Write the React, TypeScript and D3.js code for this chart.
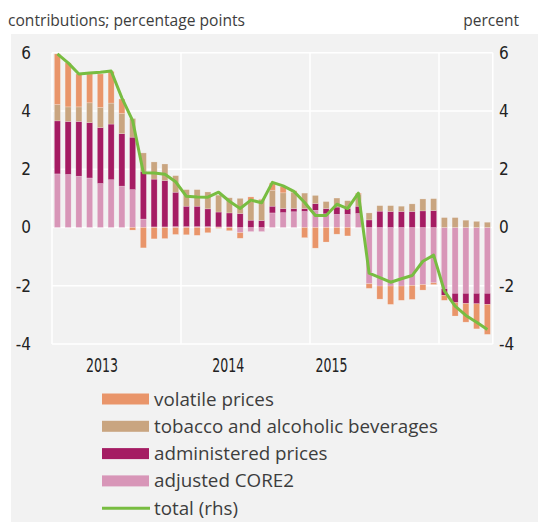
import React from "react";
import * as d3 from "d3";

const months: string[] = [
  "2013-01","2013-02","2013-03","2013-04","2013-05","2013-06","2013-07","2013-08","2013-09","2013-10","2013-11","2013-12",
  "2014-01","2014-02","2014-03","2014-04","2014-05","2014-06","2014-07","2014-08","2014-09","2014-10","2014-11","2014-12",
  "2015-01","2015-02","2015-03","2015-04","2015-05","2015-06","2015-07","2015-08","2015-09","2015-10","2015-11","2015-12",
  "2016-01","2016-02","2016-03","2016-04","2016-05",
];

const core: number[] = [
  1.84, 1.82, 1.76, 1.70, 1.51, 1.64, 1.42, 1.30, 0.29, 0.02, 0.02, 0.03,
  0.03, 0.03, 0.03, 0.02, 0.02, -0.18, -0.14, -0.14, 0.50, 0.51, 0.54, 0.55,
  0.59, 0.47, 0.45, 0.45, 0.48, -1.93, -2.01, -2.01, -2.01, -1.99, -1.96, -1.90,
  -2.10, -2.26, -2.26, -2.26, -2.26,
];

const administered: number[] = [
  1.82, 1.82, 1.88, 1.90, 1.92, 1.91, 1.80, 1.80, 1.64, 1.64, 1.59, 1.18,
  0.70, 0.70, 0.61, 0.51, 0.48, 0.48, 0.25, 0.24, 0.23, 0.14, 0.11, 0.10,
  0.23, 0.18, 0.25, 0.20, 0.25, 0.26, 0.56, 0.55, 0.55, 0.55, 0.57, 0.58,
  -0.23, -0.32, -0.35, -0.36, -0.38,
];

const tobacco: number[] = [
  0.56, 0.50, 0.50, 0.68, 0.69, 0.72, 0.69, 0.64, 0.63, 0.59, 0.57, 0.57,
  0.57, 0.57, 0.58, 0.58, 0.52, 0.52, 0.65, 0.72, 0.55, 0.54, 0.56, 0.53,
  0.28, 0.24, 0.31, 0.27, 0.42, 0.24, 0.19, 0.20, 0.18, 0.26, 0.41, 0.41,
  0.34, 0.34, 0.25, 0.21, 0.18,
];

const volatile: number[] = [
  1.74, 1.51, 1.13, 0.99, 1.15, 1.09, 0.50, -0.09, -0.70, -0.39, -0.38, -0.24,
  -0.25, -0.27, -0.18, -0.03, -0.11, -0.19, 0.15, 0.02, 0.25, 0.21, 0.05, -0.35,
  -0.71, -0.50, -0.23, -0.29, 0.03, -0.16, -0.45, -0.63, -0.49, -0.48, -0.19, -0.06,
  -0.17, -0.46, -0.64, -0.86, -1.03,
];

const total: number[] = [
  5.96, 5.65, 5.27, 5.30, 5.33, 5.37, 4.45, 3.67, 1.88, 1.87, 1.83, 1.57,
  1.07, 1.05, 1.04, 1.21, 0.90, 0.65, 0.94, 0.85, 1.55, 1.43, 1.24, 0.86,
  0.41, 0.41, 0.80, 0.65, 1.18, -1.57, -1.72, -1.88, -1.76, -1.65, -1.16, -0.95,
  -2.18, -2.70, -3.02, -3.25, -3.50,
];

const seriesKeys = ["core", "administered", "tobacco", "volatile"];
const seriesLabels: Record<string, string> = {
  volatile: "volatile prices",
  tobacco: "tobacco and alcoholic beverages",
  administered: "administered prices",
  core: "adjusted CORE2",
};
const seriesColors: Record<string, string> = {
  volatile: "#e9956a",
  tobacco: "#c9a580",
  administered: "#a51c63",
  core: "#d896b8",
};
const legendOrder = ["volatile", "tobacco", "administered", "core"];
const lineLabel = "total (rhs)";
const lineColor = "#78bd41";

const yTicks: number[] = [-4, -2, 0, 2, 4, 6];
const yearLabels: string[] = ["2013", "2014", "2015"];
const yearLabelPos: number[] = [4.65, 16.4, 26.0]; // in month units
const yearBoundaries: number[] = [12, 24, 36];

const leftTitle = "contributions; percentage points";
const rightTitle = "percent";

export default function App() {
  const W = 538;
  const H = 522;
  const plot = { left: 52, right: 492.75, top: 52.7, bottom: 344 };

  const x = d3
    .scaleBand<number>()
    .domain(months.map((_, i) => i))
    .range([plot.left, plot.right])
    .paddingInner(0.44)
    .paddingOuter(0.22);
  const xm = d3.scaleLinear().domain([0, months.length]).range([plot.left, plot.right]);
  const y = d3.scaleLinear().domain([-4, 6]).range([plot.bottom, plot.top]);

  const rows = months.map((m, i) => ({
    i,
    core: core[i],
    administered: administered[i],
    tobacco: tobacco[i],
    volatile: volatile[i],
  }));
  const stacked = d3
    .stack<any>()
    .keys(seriesKeys)
    .offset(d3.stackOffsetDiverging)(rows);

  const line = d3
    .line<number>()
    .x((_, i) => (x(i) as number) + x.bandwidth() / 2)
    .y((d) => y(d));

  const axisFont = "'DejaVu Sans Condensed', 'Liberation Sans Narrow', sans-serif";
  const textFont = "'Open Sans', 'Noto Sans', sans-serif";
  const textColor = "#3d3d3d";

  return (
    <svg
      width={W}
      height={H}
      style={{ position: "absolute", left: 0, top: 0, background: "#ffffff" }}
    >
      <rect x={11} y={34} width={W - 11} height={346} fill="#f2f2f2" />
      <rect x={11} y={380} width={W - 11} height={H - 380} fill="#f2f2f2" />
      <text x={8} y={26} fontFamily={textFont} fontSize={15.5} fill={textColor} textLength={237} lengthAdjust="spacingAndGlyphs">
        {leftTitle}
      </text>
      <text x={519} y={26} fontFamily={textFont} fontSize={15.5} fill={textColor} textAnchor="end">
        {rightTitle}
      </text>

      {/* grid */}
      {yTicks.map((t) => (
        <line key={"g" + t} x1={plot.left} x2={plot.right} y1={y(t)} y2={y(t)} stroke="#ffffff" strokeWidth={1.5} />
      ))}
      {[0, ...yearBoundaries, months.length].map((b) => (
        <line key={"v" + b} x1={xm(b)} x2={xm(b)} y1={plot.top} y2={plot.bottom} stroke="#ffffff" strokeWidth={1.5} />
      ))}

      {/* bars */}
      {stacked.map((s) => (
        <g key={s.key} fill={seriesColors[s.key]}>
          {s.map((d, i) => {
            const y0 = y(d[0]);
            const y1 = y(d[1]);
            const h = Math.abs(y0 - y1);
            if (h < 0.01) return null;
            return (
              <rect
                key={i}
                x={x(i)}
                y={Math.min(y0, y1)}
                width={x.bandwidth()}
                height={h}
                stroke="#ffffff"
                strokeOpacity={0.35}
                strokeWidth={0.6}
              />
            );
          })}
        </g>
      ))}

      {/* total line */}
      <path d={line(total) || ""} fill="none" stroke={lineColor} strokeWidth={3} strokeLinejoin="round" />

      {/* y axes */}
      {yTicks.map((t) => (
        <text key={"l" + t} x={31} y={y(t)} dy="0.35em" textAnchor="end" fontFamily={axisFont} fontSize={17} fill="#222">
          {t}
        </text>
      ))}
      {yTicks.map((t) => (
        <text key={"r" + t} x={499} y={y(t)} dy="0.35em" textAnchor="start" fontFamily={axisFont} fontSize={17} fill="#222">
          {t}
        </text>
      ))}
      {yearLabels.map((lab, i) => (
        <text
          key={lab}
          x={xm(yearLabelPos[i]) - 16}
          y={365}
          dy="0.36em"
          textAnchor="start"
          fontFamily={axisFont}
          fontSize={19.5}
          fontWeight={500}
          fill="#222"
          textLength={32}
          lengthAdjust="spacingAndGlyphs"
        >
          {lab}
        </text>
      ))}

      {/* legend */}
      {legendOrder.map((k, i) => (
        <g key={k} transform={`translate(102, ${399 + i * 27.3})`}>
          <rect x={0} y={-5.5} width={47} height={11} fill={seriesColors[k]} />
          <text x={52} y={0} dy="0.35em" fontFamily={textFont} fontSize={18.8} fill={textColor}>
            {seriesLabels[k]}
          </text>
        </g>
      ))}
      <g transform={`translate(102, ${399 + 4 * 27.3})`}>
        <line x1={0} x2={48} y1={0} y2={0} stroke={lineColor} strokeWidth={3} />
        <text x={52} y={0} dy="0.35em" fontFamily={textFont} fontSize={18.8} fill={textColor}>
          {lineLabel}
        </text>
      </g>
    </svg>
  );
}
